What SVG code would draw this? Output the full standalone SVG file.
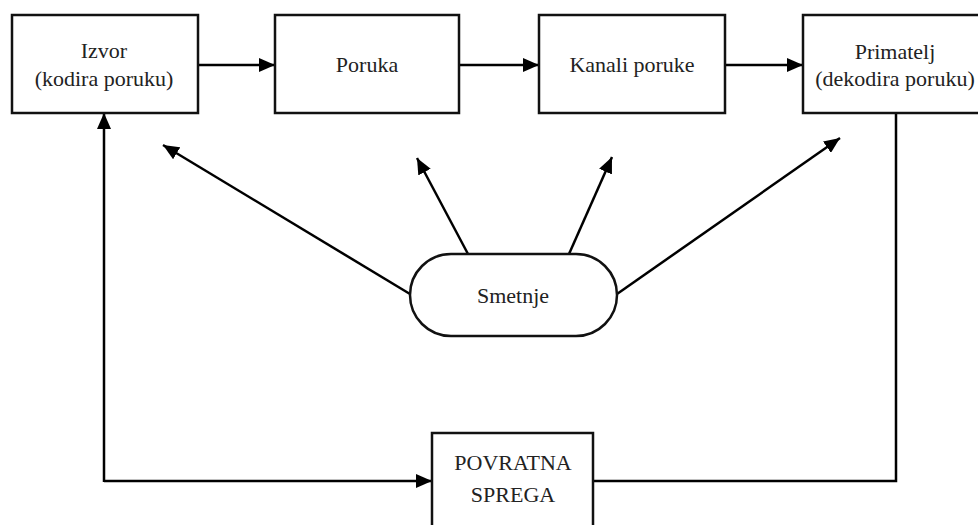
<svg xmlns="http://www.w3.org/2000/svg" width="978" height="525" viewBox="0 0 978 525">
  <defs>
    <marker id="arrow" markerUnits="userSpaceOnUse" markerWidth="16" markerHeight="14" viewBox="0 0 16 14" refX="16" refY="7" orient="auto">
      <path d="M0,0 L16,7 L0,14 Z" fill="#000"/>
    </marker>
  </defs>
  <style>
    .box { fill: #fff; stroke: #111; stroke-width: 2.5; }
    .lbl { font-family: "Liberation Serif", "Times New Roman", serif; font-size: 22px; fill: #222; text-anchor: middle; }
    .conn { fill: none; stroke: #000; stroke-width: 2.5; }
    .arr { marker-end: url(#arrow); }
  </style>
  <rect width="978" height="525" fill="#fff"/>

  <!-- connectors -->
  <g id="connectors">
    <line class="conn arr" x1="198" y1="65" x2="275" y2="65"/>
    <line class="conn arr" x1="459" y1="65" x2="539" y2="65"/>
    <line class="conn arr" x1="725" y1="65" x2="803" y2="65"/>
    <!-- interference arrows -->
    <line class="conn arr" x1="410" y1="294" x2="163" y2="145"/>
    <line class="conn arr" x1="468" y1="254" x2="417" y2="158"/>
    <line class="conn arr" x1="569" y1="254" x2="612" y2="157"/>
    <line class="conn arr" x1="617" y1="294" x2="840" y2="138"/>
    <!-- feedback loop -->
    <polyline class="conn" points="896,113 896,481 593,481"/>
    <line class="conn arr" x1="104" y1="481" x2="432" y2="481"/>
    <line class="conn arr" x1="104" y1="482" x2="104" y2="113"/>
  </g>

  <g id="izvor">
    <rect class="box" x="12" y="15" width="186" height="98"/>
    <text class="lbl" x="104" y="58">Izvor</text>
    <text class="lbl" x="104" y="86">(kodira poruku)</text>
  </g>

  <g id="poruka">
    <rect class="box" x="275" y="15" width="184" height="98"/>
    <text class="lbl" x="367" y="72">Poruka</text>
  </g>

  <g id="kanali">
    <rect class="box" x="539" y="15" width="186" height="98"/>
    <text class="lbl" x="632" y="72">Kanali poruke</text>
  </g>

  <g id="primatelj">
    <rect class="box" x="803" y="15" width="186" height="98"/>
    <text class="lbl" x="895" y="59">Primatelj</text>
    <text class="lbl" x="895" y="86">(dekodira poruku)</text>
  </g>

  <g id="smetnje">
    <rect class="box" x="410" y="254" width="207" height="82" rx="41" ry="41"/>
    <text class="lbl" x="513" y="303">Smetnje</text>
  </g>

  <g id="povratna-sprega">
    <rect class="box" x="432" y="433" width="161" height="110"/>
    <text class="lbl" x="513" y="470">POVRATNA</text>
    <text class="lbl" x="513" y="502">SPREGA</text>
  </g>
</svg>
